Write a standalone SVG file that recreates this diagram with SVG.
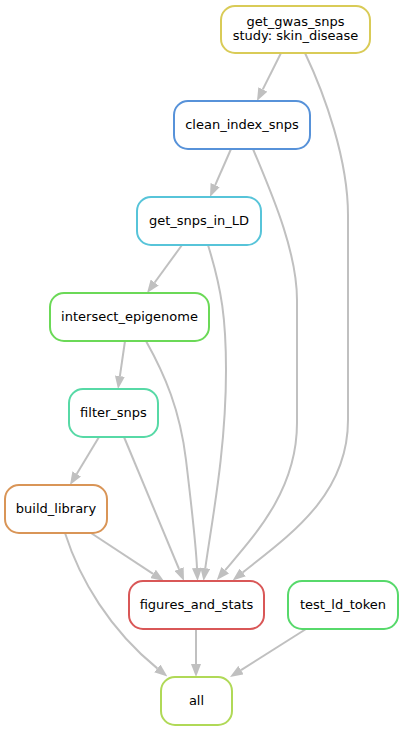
<svg xmlns="http://www.w3.org/2000/svg" width="403" height="731" viewBox="0 0 403 731">
<style>
.n rect{fill:#fff;stroke-width:2}
.n text{font-family:"DejaVu Sans",sans-serif;font-size:13px;fill:#000;text-anchor:middle}
.e path{fill:none;stroke:#c0c0c0;stroke-width:2;marker-end:url(#a)}
</style>
<defs>
<marker id="a" viewBox="0 0 13 10" refX="0" refY="5" markerWidth="13" markerHeight="10" markerUnits="userSpaceOnUse" orient="auto">
<path d="M0,0 L13,5 L0,10 z" fill="#c0c0c0"/>
</marker>
</defs>
<rect width="403" height="731" fill="#fff"/>
<g id="edges" class="e">
<path d="M281,53 L262.8,89.4"/>
<path d="M305,53 C325,95 348,160 348,215 L348,420 C348,495 290,535 242.8,572.4"/>
<path d="M231,149 L215.2,185.1"/>
<path d="M253,149 C270,190 297,250 297,300 L297,423 C297,490 255,535 225.2,570.2"/>
<path d="M182,245 L154.7,282.5"/>
<path d="M208,245 C222,290 226,320 226,370 C226,450 212,520 205.3,568.1"/>
<path d="M125,341 L119.9,376.1"/>
<path d="M146,341 C165,375 180,410 186,460 C192,510 196,545 197,568"/>
<path d="M99,437 L76.7,473.9"/>
<path d="M124,437 L179,569"/>
<path d="M91,533 L153.1,573.9"/>
<path d="M65,533 C80,580 110,630 157.3,668.4"/>
<path d="M196,629 L196,664"/>
<path d="M306,629 L241,670.1"/>
</g>
<g id="get_gwas_snps" class="n"><rect x="221" y="6" width="149" height="47" rx="14" stroke="#d9cb57"/><text x="295.5" y="26">get_gwas_snps</text><text x="295.5" y="39.5">study: skin_disease</text></g>
<g id="clean_index_snps" class="n"><rect x="174" y="101" width="136" height="48" rx="14" stroke="#5792d9"/><text x="242" y="129">clean_index_snps</text></g>
<g id="get_snps_in_LD" class="n"><rect x="137" y="197" width="124" height="48" rx="14" stroke="#57c4d9"/><text x="199" y="225">get_snps_in_LD</text></g>
<g id="intersect_epigenome" class="n"><rect x="50" y="293" width="159" height="48" rx="14" stroke="#6bd957"/><text x="129.5" y="321">intersect_epigenome</text></g>
<g id="filter_snps" class="n"><rect x="69" y="389" width="89" height="48" rx="14" stroke="#57d9a6"/><text x="113.5" y="417">filter_snps</text></g>
<g id="build_library" class="n"><rect x="5" y="485" width="102" height="48" rx="14" stroke="#d99557"/><text x="56" y="513">build_library</text></g>
<g id="figures_and_stats" class="n"><rect x="129" y="581" width="135" height="48" rx="14" stroke="#d95757"/><text x="196.5" y="609">figures_and_stats</text></g>
<g id="test_ld_token" class="n"><rect x="288" y="581" width="110" height="48" rx="14" stroke="#57d96b"/><text x="343" y="609">test_ld_token</text></g>
<g id="all" class="n"><rect x="161" y="677" width="71" height="48" rx="14" stroke="#b0d957"/><text x="196.5" y="705">all</text></g>
</svg>
